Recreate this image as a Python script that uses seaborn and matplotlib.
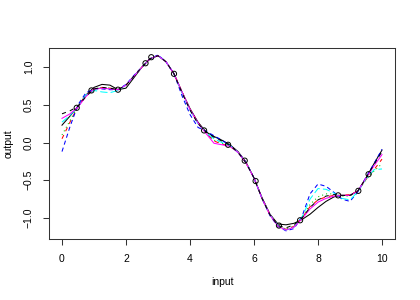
import numpy as np
import pandas as pd
import seaborn as sns
import matplotlib
matplotlib.use("Agg")
import matplotlib.pyplot as plt

# observed points
obs_x = [0.46, 0.92, 1.75, 2.61, 2.79, 3.50, 4.44, 5.19, 5.71, 6.05, 6.78, 7.44, 8.63, 9.26, 9.58]
obs_y = [0.46, 0.69, 0.70, 1.05, 1.13, 0.91, 0.16, -0.03, -0.24, -0.51, -1.10, -1.03, -0.70, -0.64, -0.42]

# curve sample grid (0 to 10 in steps of 0.25)
grid_x = np.linspace(0, 10, 41)

black_solid = [0.23, 0.35, 0.48, 0.63, 0.73, 0.77, 0.76, 0.70, 0.72, 0.86, 1.00, 1.11, 1.15, 1.07,
               0.91, 0.67, 0.45, 0.27, 0.14, 0.08, 0.03, -0.03, -0.12, -0.26, -0.47, -0.73, -0.95,
               -1.08, -1.09, -1.07, -1.02, -0.95, -0.86, -0.78, -0.72, -0.70, -0.70, -0.64, -0.47,
               -0.28, -0.10]
red_dashed = [0.05, 0.27, 0.48, 0.62, 0.71, 0.73, 0.72, 0.70, 0.76, 0.88, 1.00, 1.11, 1.15, 1.07,
              0.91, 0.67, 0.44, 0.26, 0.13, 0.02, -0.02, -0.05, -0.13, -0.27, -0.47, -0.74, -0.96,
              -1.10, -1.15, -1.11, -1.00, -0.85, -0.76, -0.72, -0.70, -0.70, -0.69, -0.64, -0.49,
              -0.36, -0.22]
green_dotted = [0.10, 0.29, 0.48, 0.62, 0.71, 0.73, 0.72, 0.70, 0.76, 0.88, 1.00, 1.11, 1.15, 1.07,
                0.91, 0.67, 0.44, 0.26, 0.13, 0.03, -0.01, -0.05, -0.13, -0.27, -0.47, -0.74, -0.96,
                -1.10, -1.15, -1.11, -0.99, -0.82, -0.72, -0.68, -0.68, -0.71, -0.71, -0.64, -0.49,
                -0.38, -0.28]
blue_dashed = [-0.12, 0.21, 0.50, 0.66, 0.71, 0.71, 0.70, 0.70, 0.77, 0.89, 1.00, 1.11, 1.16, 1.07,
               0.91, 0.62, 0.37, 0.20, 0.15, 0.09, 0.03, -0.04, -0.13, -0.26, -0.47, -0.74, -0.97,
               -1.11, -1.17, -1.14, -0.98, -0.68, -0.55, -0.58, -0.66, -0.75, -0.78, -0.65, -0.46,
               -0.28, -0.09]
cyan_long = [0.27, 0.36, 0.47, 0.63, 0.69, 0.67, 0.66, 0.69, 0.76, 0.88, 1.00, 1.11, 1.15, 1.07,
             0.91, 0.66, 0.43, 0.25, 0.13, 0.05, 0.00, -0.04, -0.13, -0.27, -0.47, -0.74, -0.96,
             -1.10, -1.16, -1.12, -0.99, -0.75, -0.61, -0.62, -0.67, -0.74, -0.76, -0.65, -0.48,
             -0.36, -0.35]
magenta_solid = [0.32, 0.38, 0.47, 0.61, 0.71, 0.72, 0.71, 0.70, 0.76, 0.88, 1.00, 1.11, 1.15, 1.07,
                 0.91, 0.67, 0.44, 0.26, 0.12, -0.01, -0.03, -0.05, -0.13, -0.27, -0.47, -0.74, -0.96,
                 -1.11, -1.16, -1.12, -1.01, -0.88, -0.79, -0.74, -0.71, -0.70, -0.70, -0.64, -0.47,
                 -0.31, -0.16]
black_dashed = [0.38, 0.42, 0.48, 0.61, 0.71, 0.73, 0.72, 0.70, 0.76, 0.88, 1.00, 1.11, 1.15, 1.07,
                0.91, 0.66, 0.43, 0.25, 0.14, 0.07, 0.02, -0.04, -0.13, -0.27, -0.47, -0.74, -0.96,
                -1.10, -1.13, -1.09, -1.00, -0.86, -0.76, -0.71, -0.69, -0.70, -0.70, -0.64, -0.47,
                -0.29, -0.12]

# R classic palette, lty cycling
curves = [
    (black_solid, "black", "-"),
    (red_dashed, "red", (0, (4, 4))),
    (green_dotted, "#00CD00", (0, (1, 3))),
    (blue_dashed, "blue", (0, (4, 3))),
    (cyan_long, "cyan", (0, (7, 3))),
    (magenta_solid, "magenta", "-"),
    (black_dashed, "black", (0, (4, 4))),
]

plt.rcParams['font.family'] = ['Liberation Sans', 'DejaVu Sans']
plt.rcParams['font.size'] = 7.5

fig = plt.figure(figsize=(4.2, 3.0), dpi=100)
ax = fig.add_axes([49 / 420, 1 - 239 / 300, 346 / 420, 191 / 300])

for vals, col, ls in curves:
    sns.lineplot(x=grid_x, y=vals, color=col, linestyle=ls, linewidth=0.75, ax=ax)

sns.scatterplot(x=obs_x, y=obs_y, marker="o", s=14, facecolor="none",
                edgecolor="black", linewidth=0.7, ax=ax, zorder=5)

ax.set_xlim(-0.406, 10.406)
ax.set_ylim(-1.278, 1.252)
ax.set_xticks([0, 2, 4, 6, 8, 10])
ax.set_yticks([-1.0, -0.5, 0.0, 0.5, 1.0])
ax.set_xticklabels(["0", "2", "4", "6", "8", "10"])
ax.set_yticklabels(["\u22121.0", "\u22120.5", "0.0", "0.5", "1.0"])
ax.tick_params(direction="out", length=4, width=0.75, pad=7, color="#333333")
ax.tick_params(axis="y", labelrotation=90)
for lab in ax.get_yticklabels():
    lab.set_va("center")
for sp in ax.spines.values():
    sp.set_linewidth(0.75)
    sp.set_color("#333333")

ax.set_xlabel("input", labelpad=9)
ax.set_ylabel("output", labelpad=7)

fig.savefig("out.png", dpi=100)
